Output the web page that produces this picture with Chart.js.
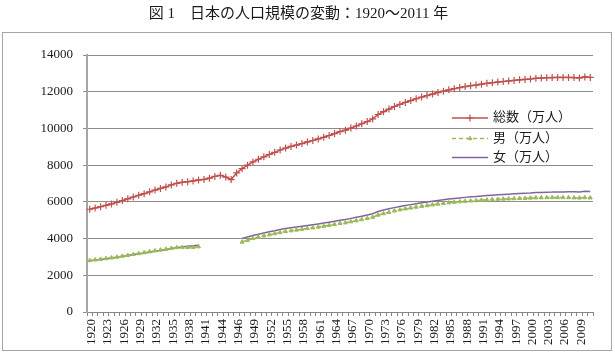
<!DOCTYPE html>
<html>
<head>
<meta charset="utf-8">
<script src="https://cdn.jsdelivr.net/npm/chart.js@4.4.1/dist/chart.umd.min.js"></script>
<style>
  html, body { margin: 0; padding: 0; background: #fff; }
</style>
</head>
<body>
<canvas id="chart" width="615" height="357"></canvas>
<script>
// categories (1945 appears twice in the source table)
const years = [
  '1920','1921','1922','1923','1924','1925','1926','1927','1928','1929',
  '1930','1931','1932','1933','1934','1935','1936','1937','1938','1939',
  '1940','1941','1942','1943','1944','1945','1945','1946','1947','1948',
  '1949','1950','1951','1952','1953','1954','1955','1956','1957','1958',
  '1959','1960','1961','1962','1963','1964','1965','1966','1967','1968',
  '1969','1970','1971','1972','1973','1974','1975','1976','1977','1978',
  '1979','1980','1981','1982','1983','1984','1985','1986','1987','1988',
  '1989','1990','1991','1992','1993','1994','1995','1996','1997','1998',
  '1999','2000','2001','2002','2003','2004','2005','2006','2007','2008',
  '2009','2010','2011'
];

// 総数（万人）
const totalPop = [
  5596,5666,5739,5812,5888,5974,6074,6166,6264,6359,
  6445,6545,6643,6731,6814,6925,7011,7063,7101,7138,
  7193,7222,7288,7388,7443,7350,7215,7575,7810,8000,
  8177,8320,8454,8581,8698,8824,8928,9017,9093,9177,
  9264,9342,9429,9518,9616,9718,9828,9904,10020,10133,
  10254,10372,10515,10760,10910,11057,11194,11309,11417,11519,
  11616,11706,11790,11873,11954,12031,12105,12166,12224,12278,
  12326,12361,12410,12457,12494,12527,12557,12586,12616,12647,
  12667,12693,12729,12744,12762,12769,12777,12777,12777,12769,
  12751,12806,12780
];

// 男（万人）
const malePop = [
  2804,2840,2876,2912,2950,2988,3041,3088,3137,3184,
  3239,3289,3338,3381,3422,3473,3514,3525,3521,3525,
  3557,null,null,null,null,null,null,null,3810,3913,
  4006,4081,4147,4210,4269,4330,4385,4429,4467,4509,
  4552,4587,4630,4673,4721,4773,4828,4863,4919,4975,
  5035,5092,5162,5282,5359,5434,5509,5568,5620,5670,
  5718,5759,5799,5840,5880,5917,5953,5982,6009,6034,
  6054,6070,6092,6112,6131,6145,6157,6166,6179,6191,
  6196,6211,6224,6229,6235,6238,6235,6235,6233,6225,
  6213,6233,6218
];

// 女（万人）
const femalePop = [
  2792,2826,2863,2900,2938,2986,3033,3078,3127,3175,
  3206,3256,3305,3350,3392,3452,3497,3538,3580,3613,
  3636,null,null,null,null,null,null,null,4000,4087,
  4171,4239,4307,4371,4429,4494,4543,4588,4626,4668,
  4712,4755,4799,4845,4895,4945,5000,5041,5101,5158,
  5219,5280,5353,5478,5551,5623,5685,5741,5797,5849,
  5898,5947,5991,6033,6074,6114,6152,6184,6215,6244,
  6272,6291,6318,6345,6363,6382,6400,6420,6437,6456,
  6471,6482,6505,6515,6527,6531,6542,6542,6544,6544,
  6538,6573,6562
];

const yTicks = [0, 2000, 4000, 6000, 8000, 10000, 12000, 14000];

const SERIF = "'Liberation Serif', 'Noto Sans CJK JP', serif";
const TEXT_COLOR = '#1a1a1a';

// outer grey frame of the chart box, below the title
const frameBox = {
  id: 'frameBox',
  beforeDraw(chart) {
    const ctx = chart.ctx;
    ctx.save();
    ctx.fillStyle = '#fff';
    ctx.fillRect(0, 0, chart.width, chart.height);
    ctx.strokeStyle = '#a6a6a6';
    ctx.lineWidth = 1;
    ctx.strokeRect(2.5, 32.5, 609, 318);
    ctx.restore();
  }
};

// legend drawn inside the plot, at the right
const innerLegend = {
  id: 'innerLegend',
  afterDatasetsDraw(chart) {
    const ctx = chart.ctx;
    const area = chart.chartArea;
    const x0 = area.right - 141;
    const x1 = area.right - 105;
    const rows = [63, 83.5, 102.5];
    ctx.save();
    chart.data.datasets.forEach((ds, i) => {
      const y = area.top + rows[i];
      ctx.strokeStyle = ds.borderColor;
      ctx.lineWidth = ds.borderWidth;
      ctx.setLineDash(ds.borderDash || []);
      ctx.beginPath();
      ctx.moveTo(x0, y);
      ctx.lineTo(x1, y);
      ctx.stroke();
      ctx.setLineDash([]);
      if (ds.pointRadius > 0) {
        ctx.fillStyle = ds.pointBackgroundColor;
        ctx.strokeStyle = ds.pointBorderColor;
        ctx.lineWidth = ds.pointBorderWidth;
        Chart.helpers.drawPoint(ctx, {
          pointStyle: ds.pointStyle,
          radius: ds.pointRadius,
          rotation: 0,
          borderWidth: ds.pointBorderWidth
        }, (x0 + x1) / 2, y);
      }
      ctx.fillStyle = TEXT_COLOR;
      ctx.font = "13px " + SERIF;
      ctx.textBaseline = 'middle';
      ctx.textAlign = 'left';
      ctx.fillText(ds.label, x1 + 5, y);
    });
    ctx.restore();
  }
};

new Chart(document.getElementById('chart'), {
  type: 'line',
  data: {
    labels: years,
    datasets: [
      {
        label: '総数（万人）',
        data: totalPop,
        borderColor: '#c0504d',
        borderWidth: 1.5,
        pointStyle: 'cross',
        pointRadius: 3.5,
        pointBorderWidth: 1.2,
        pointBorderColor: '#c0504d',
        pointBackgroundColor: '#c0504d',
        tension: 0
      },
      {
        label: '男（万人）',
        data: malePop,
        borderColor: '#9bbb59',
        borderWidth: 1.5,
        borderDash: [4, 3],
        pointStyle: 'triangle',
        pointRadius: 2.3,
        pointBorderWidth: 1,
        pointBorderColor: '#9bbb59',
        pointBackgroundColor: '#9bbb59',
        tension: 0
      },
      {
        label: '女（万人）',
        data: femalePop,
        borderColor: '#8064a2',
        borderWidth: 1.5,
        pointRadius: 0,
        tension: 0
      }
    ]
  },
  options: {
    responsive: false,
    animation: false,
    devicePixelRatio: 1,
    spanGaps: false,
    layout: { padding: { left: 4, right: 22, top: 0, bottom: 8 } },
    plugins: {
      legend: { display: false },
      tooltip: { enabled: false },
      title: {
        display: true,
        text: '図 1　日本の人口規模の変動：1920〜2011 年',
        color: TEXT_COLOR,
        font: { size: 15, family: SERIF, weight: 'normal' },
        padding: { top: 5, bottom: 32 }
      }
    },
    scales: {
      x: {
        offset: true,
        grid: {
          offset: true,
          drawOnChartArea: false,
          drawTicks: true,
          tickLength: 4,
          color: '#868686'
        },
        border: { color: '#868686', width: 1 },
        ticks: {
          autoSkip: false,
          minRotation: 90,
          maxRotation: 90,
          padding: 3,
          labelOffset: 2,
          color: TEXT_COLOR,
          font: { size: 13, family: SERIF },
          callback(value, index) {
            return index % 3 === 0 ? this.getLabelForValue(value) : '';
          }
        },
        afterFit(scale) { scale.height = 37; }
      },
      y: {
        min: yTicks[0],
        max: yTicks[yTicks.length - 1],
        afterBuildTicks(scale) {
          scale.ticks = yTicks.map(v => ({ value: v }));
        },
        grid: { color: '#8c8c8c', tickLength: 4, drawTicks: true },
        border: { color: '#a6a6a6', width: 2 },
        ticks: {
          padding: 10,
          color: TEXT_COLOR,
          font: { size: 13, family: SERIF },
          callback: v => String(v)
        },
        afterFit(scale) { scale.width = 83; }
      }
    }
  },
  plugins: [frameBox, innerLegend]
});
</script>
</body>
</html>
